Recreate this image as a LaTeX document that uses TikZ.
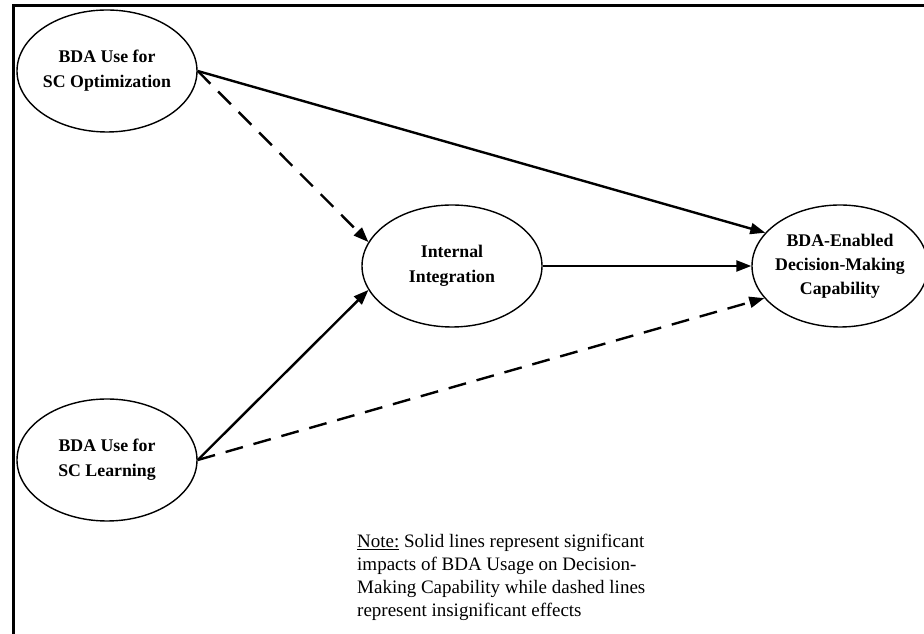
\documentclass[tikz,border=0pt]{standalone}
\usepackage{fontspec}
\setmainfont{Liberation Serif}
\usetikzlibrary{shapes.geometric,arrows.meta}

\begin{document}
\begin{tikzpicture}[x=1pt, y=1pt,
    latent/.style = {ellipse, draw, line width=1.4pt, minimum width=180pt, minimum height=122pt, inner sep=-10pt, align=center, font=\fontsize{17.8}{25}\selectfont\bfseries},
    sig/.style = {->, line width=2.4pt},
    insig/.style = {->, line width=2.4pt, dash pattern=on 18pt off 11pt},
    >={Triangle[length=15pt,width=11pt]}
    ]
    \useasboundingbox (0,0) rectangle (924,634);
    \draw[line width=3.5pt] (13.5,0) -- (13.5,628.7) -- (924,628.7);
    \node[latent] (opt) at (107,563) {BDA Use for\\SC Optimization};
    \node[latent] (learn) at (107,174) {BDA Use for\\SC Learning};
    \node[latent] (int) at (452,368) {Internal\\Integration};
    \node[latent, minimum width=176pt, font=\fontsize{17.8}{24}\selectfont\bfseries] (dm) at (840,368) {BDA-Enabled\\Decision-Making\\Capability};
    \node[anchor=north west, inner sep=0pt, align=left, font=\fontsize{19}{23}\selectfont] (note) at (357,100)
        {\underline{Note:} Solid lines represent significant\\impacts of BDA Usage on Decision-\\Making Capability while dashed lines\\represent insignificant effects};
    \draw[sig] (opt.east) -- (dm.156);
    \draw[insig] (opt.east) -- (int.164);
    \draw[sig] (learn.east) -- (int.196);
    \draw[insig] (learn.east) -- (dm.203);
    \draw[sig] (int.east) -- (dm.west);
\end{tikzpicture}
\end{document}
